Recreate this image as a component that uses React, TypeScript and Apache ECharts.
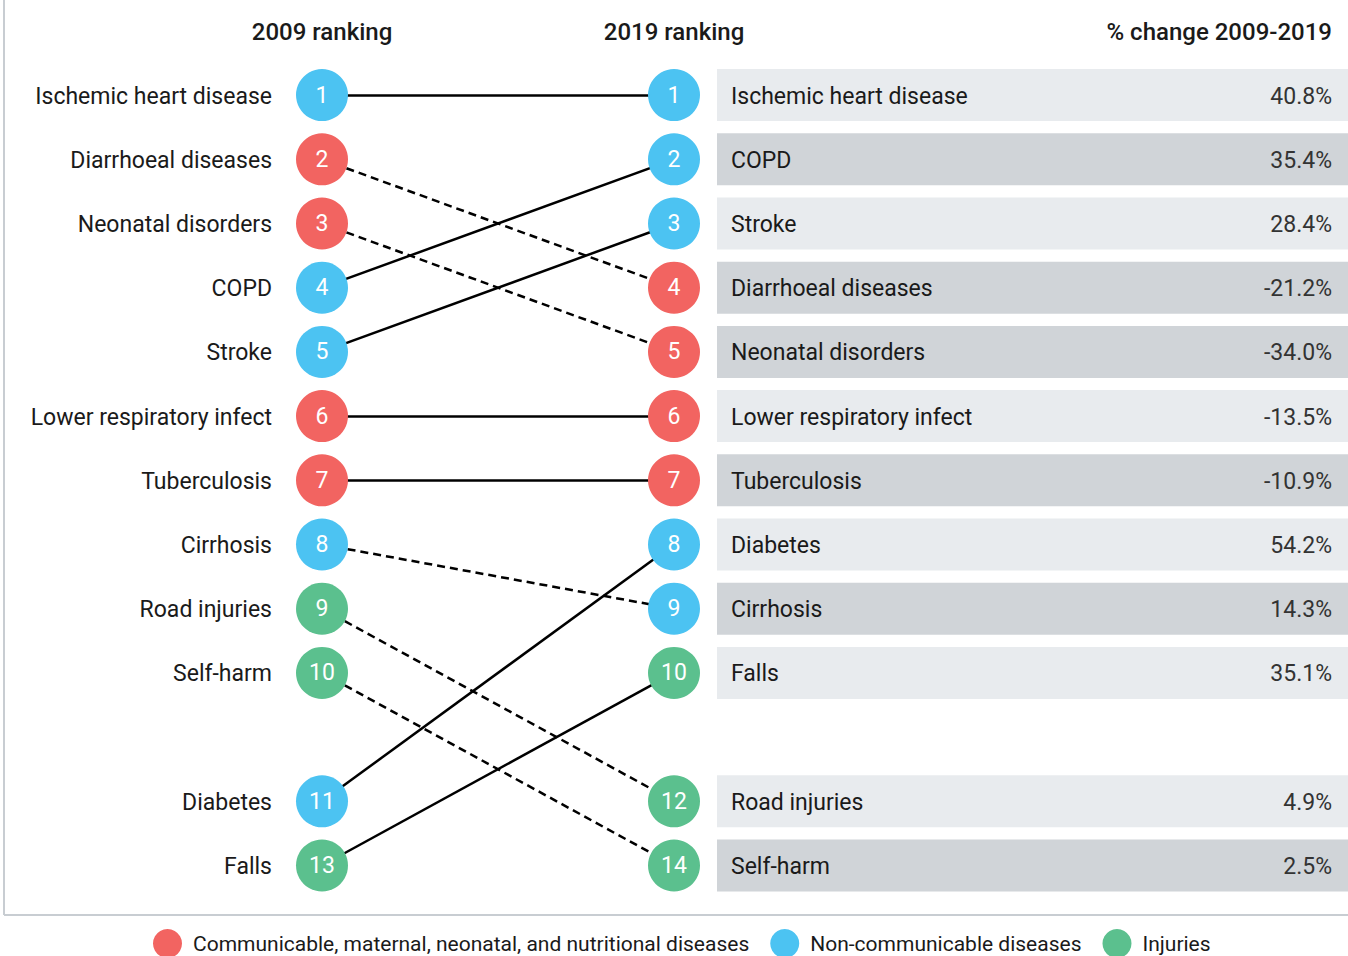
import React, { useEffect, useRef } from "react";
import * as echarts from "echarts";

// ---------------- data ----------------
const diseases = [
  "Ischemic heart disease",
  "Diarrhoeal diseases",
  "Neonatal disorders",
  "COPD",
  "Stroke",
  "Lower respiratory infect",
  "Tuberculosis",
  "Cirrhosis",
  "Road injuries",
  "Self-harm",
  "Diabetes",
  "Falls",
];
const rank2009 = [1, 2, 3, 4, 5, 6, 7, 8, 9, 10, 11, 13];
const rank2019 = [1, 4, 5, 2, 3, 6, 7, 9, 12, 14, 8, 10];
const causeGroup = [1, 0, 0, 1, 1, 0, 0, 1, 2, 2, 1, 2];
const pctChange = [40.8, -21.2, -34.0, 35.4, 28.4, -13.5, -10.9, 14.3, 4.9, 2.5, 54.2, 35.1];
const groupNames = [
  "Communicable, maternal, neonatal, and nutritional diseases",
  "Non-communicable diseases",
  "Injuries",
];
const columnTitles = ["2009 ranking", "2019 ranking"];
const changeTitle = "% change 2009-2019";

// ---------------- styles ----------------
const FONT = "Roboto, 'Liberation Sans', Arial, sans-serif";
const GROUP_COLORS = ["#f26461", "#4cc3f2", "#5bc08e"];
const DARK_BAR_ROWS = new Set([
  "COPD",
  "Diarrhoeal diseases",
  "Neonatal disorders",
  "Tuberculosis",
  "Cirrhosis",
  "Self-harm",
]);
const BAR_LIGHT = "#e8ebee";
const BAR_DARK = "#d0d4d8";
const TEXT = "#1a1a1a";

function slotsFor(ranks: number[]): number[] {
  const sorted = [...ranks].sort((a, b) => a - b);
  return ranks.map((r) => {
    const i = sorted.indexOf(r);
    return i < 10 ? i : i + 1;
  });
}

export default function App() {
  const ref = useRef<HTMLDivElement>(null);

  useEffect(() => {
    if (!ref.current) return;
    const chart = echarts.init(ref.current, undefined, { renderer: "svg" });
    const slot09 = slotsFor(rank2009);
    const slot19 = slotsFor(rank2019);

    const lineData = diseases.map((_, i) => ({
      coords: [
        [0, slot09[i]],
        [1, slot19[i]],
      ],
      lineStyle: {
        type: rank2019[i] > rank2009[i] ? [8, 5] : "solid",
      },
    }));

    const scatterSeries = groupNames.map((g, gi) => {
      const data: any[] = [];
      diseases.forEach((_, i) => {
        if (causeGroup[i] !== gi) return;
        data.push([0, slot09[i], rank2009[i]]);
        data.push([1, slot19[i], rank2019[i]]);
      });
      return {
        name: g,
        type: "scatter",
        z: 5,
        symbol: "circle",
        symbolSize: 52,
        itemStyle: { color: GROUP_COLORS[gi], opacity: 1 },
        label: {
          show: true,
          position: "inside",
          formatter: (p: any) => String(p.value[2]),
          color: "#ffffff",
          fontSize: 23,
          fontFamily: FONT,
        },
        emphasis: { disabled: true },
        data,
      };
    });

    const option: any = {
      animation: false,
      grid: { left: 322, right: 674, top: 63, height: 834.6, containLabel: false },
      xAxis: {
        type: "value",
        min: 0,
        max: 1,
        interval: 1,
        position: "top",
        axisLine: { show: false },
        axisTick: { show: false },
        splitLine: { show: false },
        axisLabel: {
          show: true,
          showMinLabel: true,
          showMaxLabel: true,
          margin: 19,
          formatter: (v: number) => columnTitles[v] ?? "",
          fontSize: 24,
          fontWeight: 500,
          color: TEXT,
          fontFamily: FONT,
        },
      },
      yAxis: {
        type: "value",
        inverse: true,
        min: -0.5,
        max: 12.5,
        show: false,
      },
      legend: {
        data: groupNames,
        top: 929,
        left: 153,
        padding: 0,
        icon: "circle",
        itemWidth: 29,
        itemHeight: 29,
        itemGap: 21,
        selectedMode: false,
        textStyle: { fontSize: 21, color: TEXT, fontFamily: FONT, padding: [0, 0, 0, 6] },
      },
      graphic: [
        {
          type: "line",
          shape: { x1: 4, y1: 0, x2: 4, y2: 915 },
          style: { stroke: "#c8cdd2", lineWidth: 2 },
        },
        {
          type: "line",
          shape: { x1: 4, y1: 915, x2: 1348, y2: 915 },
          style: { stroke: "#c8cdd2", lineWidth: 2 },
        },
        {
          type: "text",
          x: 1332,
          y: 32,
          style: {
            text: changeTitle,
            align: "right",
            verticalAlign: "middle",
            fontSize: 24,
            fontWeight: 500,
            fill: TEXT,
            fontFamily: FONT,
          },
        },
      ],
      series: [
        {
          type: "custom",
          name: "bars",
          z: 1,
          silent: true,
          data: diseases.map((_, i) => [1, slot19[i]]),
          renderItem: (params: any, api: any) => {
            const i = params.dataIndex;
            const p = api.coord([api.value(0), api.value(1)]);
            const x0 = p[0] + 43;
            const w = api.getWidth();
            return {
              type: "group",
              children: [
                {
                  type: "rect",
                  shape: { x: x0, y: p[1] - 26, width: w - x0, height: 52 },
                  style: { fill: DARK_BAR_ROWS.has(diseases[i]) ? BAR_DARK : BAR_LIGHT },
                },
                {
                  type: "text",
                  x: x0 + 14,
                  y: p[1] + 1,
                  style: {
                    text: diseases[i],
                    align: "left",
                    verticalAlign: "middle",
                    fontSize: 23,
                    fill: TEXT,
                    fontFamily: FONT,
                  },
                },
                {
                  type: "text",
                  x: w - 16,
                  y: p[1] + 1,
                  style: {
                    text: pctChange[i].toFixed(1) + "%",
                    align: "right",
                    verticalAlign: "middle",
                    fontSize: 23,
                    fill: "#333333",
                    fontFamily: FONT,
                  },
                },
              ],
            };
          },
        },
        {
          type: "custom",
          name: "leftLabels",
          z: 1,
          silent: true,
          data: diseases.map((_, i) => [0, slot09[i]]),
          renderItem: (params: any, api: any) => {
            const i = params.dataIndex;
            const p = api.coord([api.value(0), api.value(1)]);
            return {
              type: "text",
              x: p[0] - 50,
              y: p[1] + 1,
              style: {
                text: diseases[i],
                align: "right",
                verticalAlign: "middle",
                fontSize: 23,
                fill: TEXT,
                fontFamily: FONT,
              },
            };
          },
        },
        {
          type: "lines",
          coordinateSystem: "cartesian2d",
          z: 2,
          silent: true,
          lineStyle: { color: "#000000", width: 2.5, opacity: 1 },
          data: lineData,
        },
        ...scatterSeries,
      ],
    };

    chart.setOption(option);
    return () => chart.dispose();
  }, []);

  return (
    <div
      ref={ref}
      style={{ position: "absolute", left: 0, top: 0, width: 1348, height: 956 }}
    />
  );
}
